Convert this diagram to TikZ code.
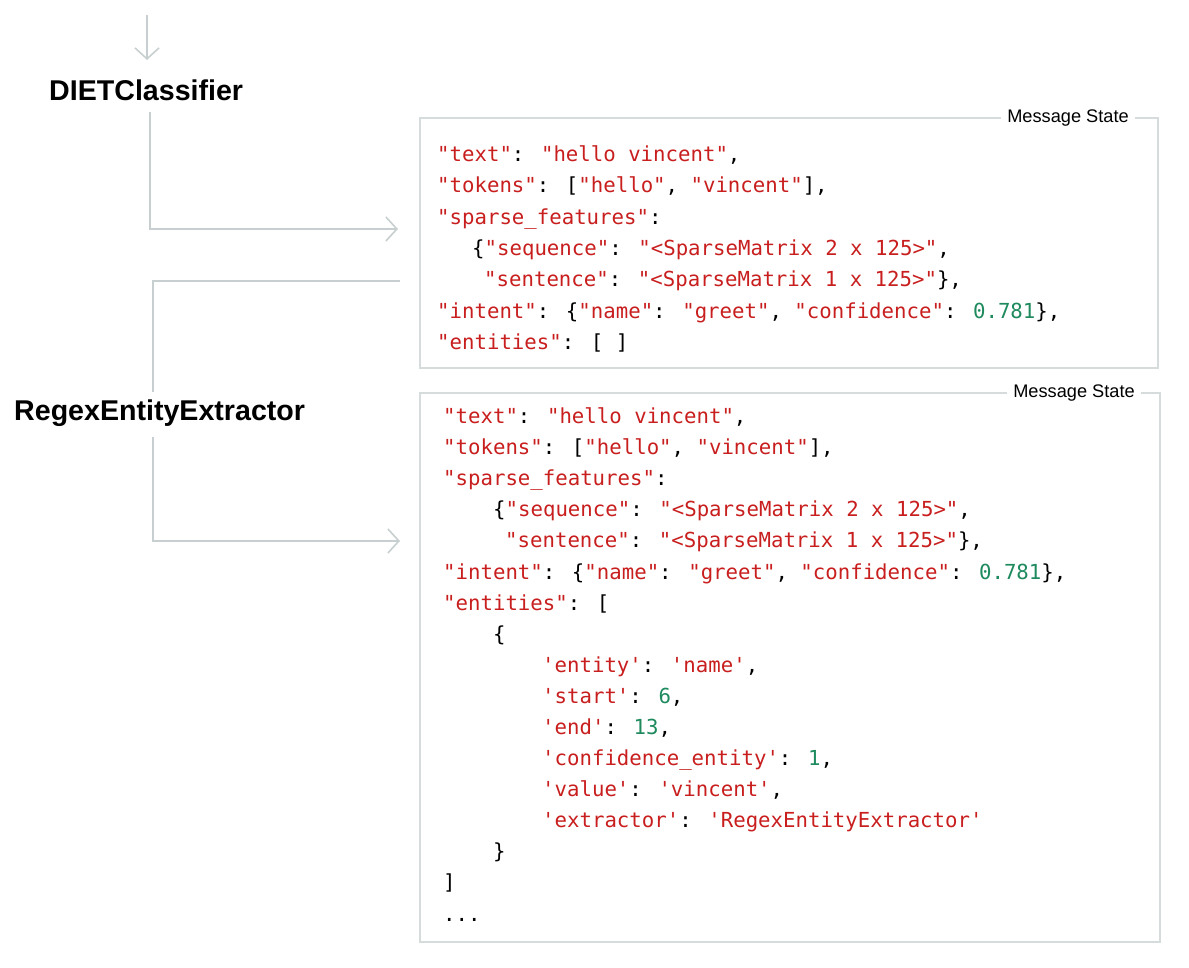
\documentclass[tikz,border=0pt]{standalone}
\usepackage{fontspec}
\setmainfont{Liberation Sans}
\newfontfamily\mono{DejaVu Sans Mono}
\usetikzlibrary{arrows.meta}
\definecolor{jr}{HTML}{C81E1E}
\definecolor{jg}{HTML}{1E8A5E}
\definecolor{ln}{HTML}{C8CFD0}
\definecolor{bx}{HTML}{D6DBDC}
\newcommand{\R}[1]{\textcolor{jr}{#1}}
\newcommand{\G}[1]{\textcolor{jg}{#1}}
\begin{document}
\begin{tikzpicture}[x=1pt,y=-1pt,
  conn/.style={draw=ln,line width=1.6pt},
  arr/.style={conn,-{Straight Barb[length=11pt,width=24pt,line width=1.6pt]}},
  lab/.style={font=\bfseries\fontsize{28.6}{32}\selectfont,anchor=west,inner sep=0},
  box/.style={draw=bx,line width=2.5pt},
  ms/.style={fill=white,font=\fontsize{18.2}{20}\selectfont,inner xsep=6pt,inner ysep=2pt},
  ca/.style={anchor=base west,inner sep=0,font=\mono\fontsize{20.7}{24}\selectfont},
  cb/.style={anchor=base west,inner sep=0,font=\mono\fontsize{20.7}{24}\selectfont}]
\useasboundingbox (0,0) rectangle (1189,968);
% labels
\node[lab] (diet) at (49,90) {DIETClassifier};
\node[lab] (regex) at (14,413) {RegexEntityExtractor};
% top arrow
\coordinate (t0) at (147,15);
\draw[arr] (t0) -- (147,60) coordinate (t1);
% boxes
\draw[box] (420,118) rectangle (1158,368);
\node[ms] (ms1) at (1068,118) {Message State};
\draw[box] (420,393) rectangle (1160,942);
\node[ms] (ms2) at (1074,393) {Message State};
% connectors
\coordinate (a0) at (150,112); \coordinate (a1) at (150,229); \coordinate (a2) at (398,229);
\draw[arr] (a0) -- (a1) -- (a2);
\coordinate (b0) at (400,281); \coordinate (b1) at (153,281); \coordinate (b2) at (153,392);
\draw[conn] (b0) -- (b1) -- (b2);
\coordinate (c0) at (153,437); \coordinate (c1) at (153,541); \coordinate (c2) at (400,541);
\draw[arr] (c0) -- (c1) -- (c2);
% box 1 code
\node[ca] (a_l1) at (437,162) {\R{"text"}: \R{"hello vincent"},};
\node[ca] (a_l2) at (437,193) {\R{"tokens"}: [\R{"hello"}, \R{"vincent"}],};
\node[ca] (a_l3) at (437,225) {\R{"sparse\_features"}:};
\node[ca] (a_l4) at (472,256) {\{\R{"sequence"}: \R{"<SparseMatrix 2 x 125>"},};
\node[ca] (a_l5) at (484,287) {\R{"sentence"}: \R{"<SparseMatrix 1 x 125>"}\},};
\node[ca] (a_l6) at (437,319) {\R{"intent"}: \{\R{"name"}: \R{"greet"}, \R{"confidence"}: \G{0.781}\},};
\node[ca] (a_l7) at (437,349) {\R{"entities"}: [ ]};
% box 2 code
\node[cb] (b_l1) at (443,423) {\R{"text"}: \R{"hello vincent"},};
\node[cb] (b_l2) at (443,454) {\R{"tokens"}: [\R{"hello"}, \R{"vincent"}],};
\node[cb] (b_l3) at (443,485) {\R{"sparse\_features"}:};
\node[cb] (b_l4) at (493,516) {\{\R{"sequence"}: \R{"<SparseMatrix 2 x 125>"},};
\node[cb] (b_l5) at (505,547) {\R{"sentence"}: \R{"<SparseMatrix 1 x 125>"}\},};
\node[cb] (b_l6) at (443,579) {\R{"intent"}: \{\R{"name"}: \R{"greet"}, \R{"confidence"}: \G{0.781}\},};
\node[cb] (b_l7) at (443,610) {\R{"entities"}: [};
\node[cb] (b_l8) at (493,641) {\{};
\node[cb] (b_l9) at (542,672) {\R{'entity'}: \R{'name'},};
\node[cb] (b_l10) at (542,703) {\R{'start'}: \G{6},};
\node[cb] (b_l11) at (542,734) {\R{'end'}: \G{13},};
\node[cb] (b_l12) at (542,765) {\R{'confidence\_entity'}: \G{1},};
\node[cb] (b_l13) at (542,796) {\R{'value'}: \R{'vincent'},};
\node[cb] (b_l14) at (542,827) {\R{'extractor'}: \R{'RegexEntityExtractor'}};
\node[cb] (b_l15) at (493,858) {\}};
\node[cb] (b_l16) at (443,889) {]};
\node[cb] (b_l17) at (443,921) {...};
\end{tikzpicture}
\end{document}
